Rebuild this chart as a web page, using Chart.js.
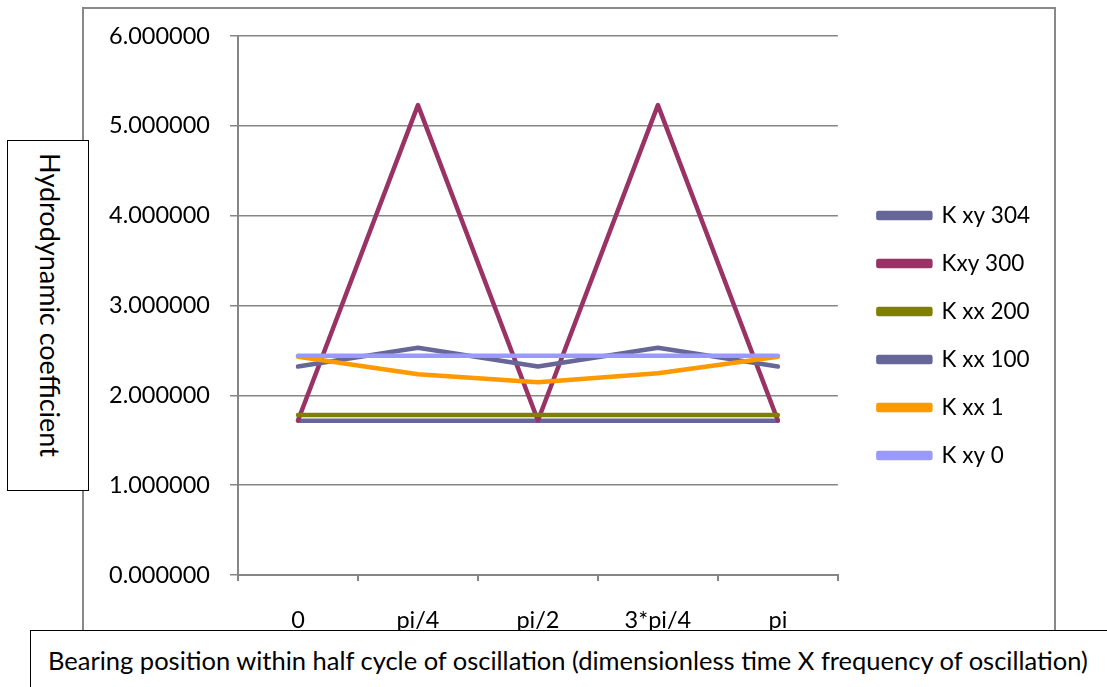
<!DOCTYPE html>
<html>
<head>
<meta charset="utf-8">
<script src="https://cdn.jsdelivr.net/npm/chart.js@4"></script>
<style>
  html, body { margin: 0; padding: 0; background: #fff; }
  body { width: 1107px; height: 687px; position: relative; overflow: hidden; font-family: Lato, sans-serif; }
  #frame { position: absolute; left: 82px; top: 7px; width: 970px; height: 640px; border: 2px solid #898989; }
  #wrap { position: absolute; left: 0; top: 0; width: 1107px; height: 687px; }
  .box { position: absolute; background: #fff; border: 1.5px solid #000; box-sizing: border-box; color: #000; }
  #ylab { left: 7px; top: 140px; width: 82px; height: 351px; }
  #ylab span { position: absolute; left: 52%; top: 47%; white-space: nowrap; font-size: 27px;
               transform: translate(-50%, -50%) rotate(90deg); }
  #xlab { left: 30px; top: 630px; width: 1100px; height: 70px; }
  #xlab span { position: absolute; left: 17px; top: 14px; white-space: nowrap; font-size: 25.5px; }
</style>
</head>
<body>
<div id="frame"></div>
<div id="wrap"><canvas id="chart" width="1107" height="687"></canvas></div>
<div class="box" id="ylab"><span>Hydrodynamic coefficient</span></div>
<div class="box" id="xlab"><span>Bearing position within half cycle of oscillation (dimensionless time X frequency of oscillation)</span></div>
<script>
// Categories (position within half cycle)
const positions = ['0', 'pi/4', 'pi/2', '3*pi/4', 'pi'];

// Series values
const kxy304 = [1.718, 1.718, 1.718, 1.718, 1.718];
const kxy300 = [1.72, 5.23, 1.72, 5.23, 1.72];
const kxx200 = [1.78, 1.78, 1.78, 1.78, 1.78];
const kxx100 = [2.32, 2.53, 2.32, 2.53, 2.32];
const kxx1 = [2.43, 2.235, 2.145, 2.245, 2.43];
const kxy0 = [2.44, 2.44, 2.44, 2.44, 2.44];

const seriesNames = ['K xy 304', 'Kxy 300', 'K xx 200', 'K xx 100', 'K xx 1', 'K xy 0'];
const seriesData = [kxy304, kxy300, kxx200, kxx100, kxx1, kxy0];
const seriesColors = ['#666699', '#993366', '#808000', '#666699', '#FF9900', '#9999FF'];

const yMin = 0, yMax = 6, yStep = 1;

const gridGrey = '#868686';
const fontFace = 'Lato, sans-serif';

const datasets = seriesNames.map((name, i) => ({
    label: name,
    data: seriesData[i],
    borderColor: seriesColors[i],
    backgroundColor: seriesColors[i],
    borderWidth: 4.5,
    borderCapStyle: 'round',
    borderJoinStyle: 'round',
    pointRadius: 0,
    tension: 0,
    fill: false,
    // later series sit on top, like the original
    order: seriesNames.length - i
}));

// nudge the legend a bit away from the plot
const legendShift = {
    id: 'legendShift',
    afterLayout(chart) {
        chart.legend.left += 15;
        chart.legend.right += 15;
    }
};

const ctx = document.getElementById('chart').getContext('2d');
new Chart(ctx, {
    type: 'line',
    data: { labels: positions, datasets: datasets },
    plugins: [legendShift],
    options: {
        responsive: false,
        animation: false,
        layout: { padding: { left: 98, top: 36, right: 82, bottom: 52 } },
        plugins: {
            tooltip: { enabled: false },
            legend: {
                position: 'right',
                labels: {
                    color: '#000',
                    font: { family: fontFace, size: 22.5 },
                    boxWidth: 52,
                    boxHeight: 5,
                    padding: 25.5,
                    sort: (a, b) => a.datasetIndex - b.datasetIndex
                }
            }
        },
        scales: {
            x: {
                offset: true,
                afterFit: (scale) => { scale.height = 60; },
                grid: { drawOnChartArea: false, drawTicks: true, tickLength: 6, color: gridGrey, lineWidth: 2, offset: true },
                border: { color: gridGrey, width: 2 },
                ticks: { color: '#000', font: { family: fontFace, size: 23.5 }, padding: 25, maxRotation: 0 }
            },
            y: {
                min: yMin,
                max: yMax,
                afterFit: (scale) => { scale.width = 140; },
                grid: { color: gridGrey, lineWidth: 1.5, tickLength: 8 },
                border: { color: gridGrey, width: 2 },
                ticks: {
                    stepSize: yStep,
                    color: '#000',
                    font: { family: fontFace, size: 23.5 },
                    padding: 20,
                    callback: (value) => value.toFixed(6)
                }
            }
        }
    }
});
</script>
</body>
</html>
